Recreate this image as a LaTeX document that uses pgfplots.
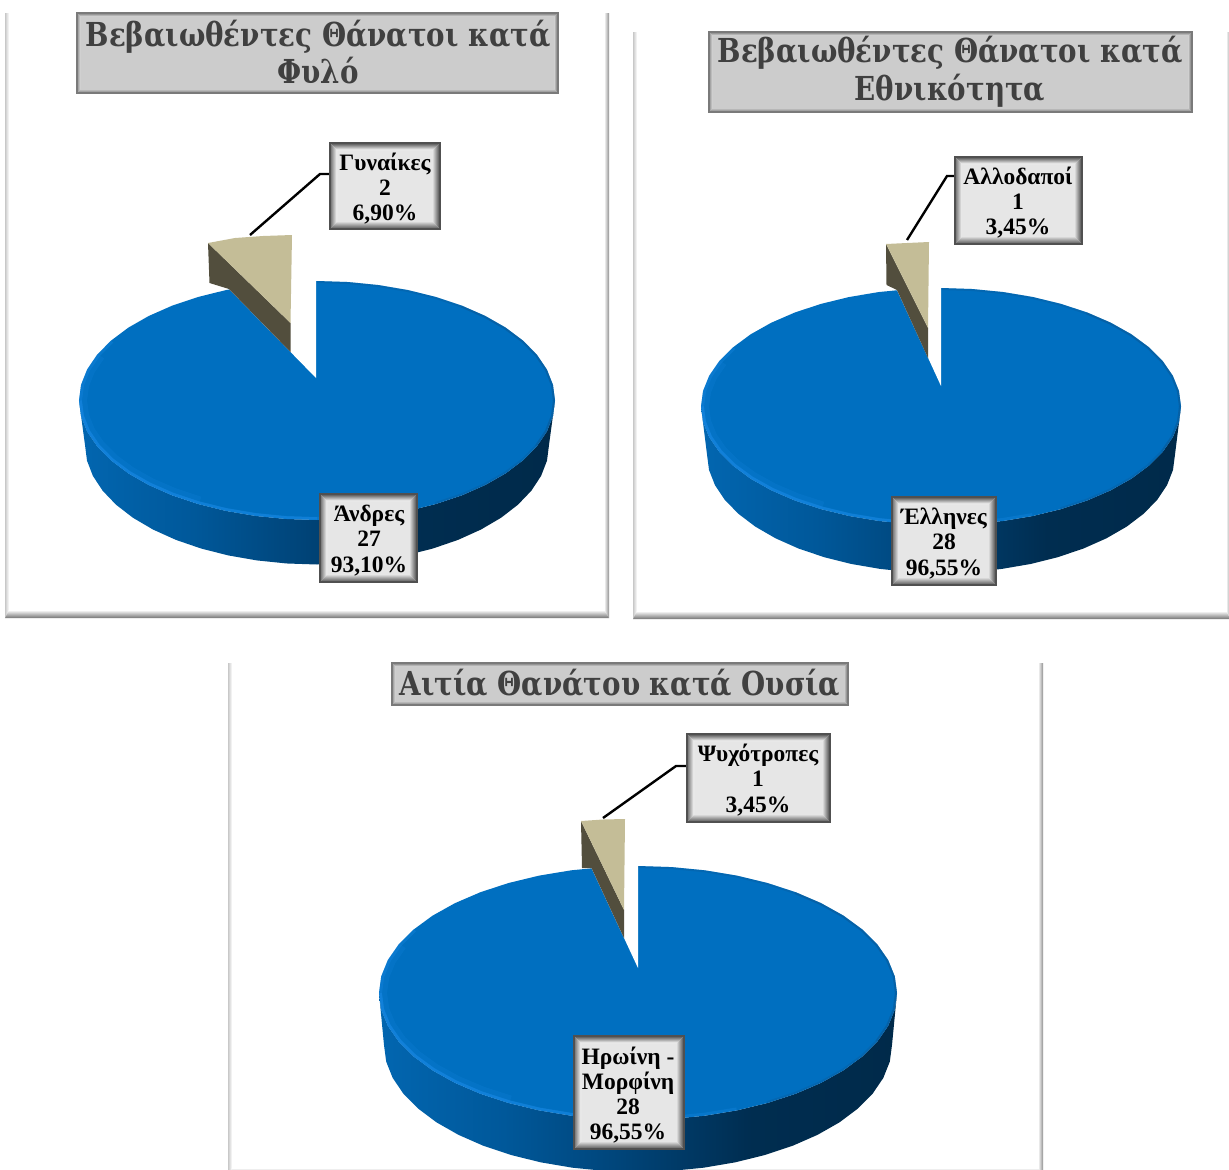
\documentclass[border=0pt]{standalone}
\usepackage{fontspec}
\setmainfont{Liberation Serif}
\newfontfamily\titlefont{DejaVu Serif}[BoldFeatures={FakeStretch=0.84}]
\usepackage{pgfplots}
\usepackage{pgfplotstable}
\pgfplotsset{compat=1.18}

\definecolor{pieblue}{HTML}{006FC0}
\definecolor{pielight}{HTML}{1A8AE6}
\definecolor{piedark}{HTML}{0A5A98}
\definecolor{slicetan}{HTML}{C4BD97}
\definecolor{slicedark}{HTML}{524E3D}
\definecolor{titletext}{HTML}{404040}
\definecolor{titleface}{HTML}{CCCCCC}
\definecolor{titleouter}{HTML}{7A7A7A}
\definecolor{titleinner}{HTML}{DEDEDE}
\definecolor{labelface}{HTML}{E6E6E6}
\definecolor{labelouter}{HTML}{505050}
\definecolor{labelinner}{HTML}{FCFCFC}
\definecolor{panelleft}{HTML}{C8C8C8}
\definecolor{panelright}{HTML}{909090}
\definecolor{panelbottom}{HTML}{737373}
\definecolor{sideA}{HTML}{0266B0}
\definecolor{sideB}{HTML}{00589A}
\definecolor{sideC}{HTML}{00457A}
\definecolor{sideD}{HTML}{002D50}
\definecolor{sideE}{HTML}{002A4A}
\pgfdeclarehorizontalshading{piesides}{100bp}{
  color(0bp)=(sideA);
  color(25bp)=(sideA);
  color(37bp)=(sideB);
  color(48bp)=(sideC);
  color(61bp)=(sideD);
  color(75bp)=(sideE);
  color(100bp)=(sideE)}

% unit ellipse, y counted downwards
\pgfplotstableread{
u v
1 0
.9914 .1305
.9659 .2588
.9239 .3827
.8660 .5
.7934 .6088
.7071 .7071
.6088 .7934
.5 .8660
.3827 .9239
.2588 .9659
.1305 .9914
0 1
-.1305 .9914
-.2588 .9659
-.3827 .9239
-.5 .8660
-.6088 .7934
-.7071 .7071
-.7934 .6088
-.8660 .5
-.9239 .3827
-.9659 .2588
-.9914 .1305
-1 0
-.9914 -.1305
-.9659 -.2588
-.9239 -.3827
-.8660 -.5
-.7934 -.6088
-.7071 -.7071
-.6088 -.7934
-.5 -.8660
-.3827 -.9239
-.2588 -.9659
-.1305 -.9914
0 -1
.1305 -.9914
.2588 -.9659
.3827 -.9239
.5 -.8660
.6088 -.7934
.7071 -.7071
.7934 -.6088
.8660 -.5
.9239 -.3827
.9659 -.2588
.9914 -.1305
1 0
}\ringtable

% side of the pie: front of top face (k=0), front of bottom face (k=1)
\pgfplotstableread{
u v k
1 0 0
.9914 .1305 0
.9659 .2588 0
.9239 .3827 0
.8660 .5 0
.7934 .6088 0
.7071 .7071 0
.6088 .7934 0
.5 .8660 0
.3827 .9239 0
.2588 .9659 0
.1305 .9914 0
0 1 0
-.1305 .9914 0
-.2588 .9659 0
-.3827 .9239 0
-.5 .8660 0
-.6088 .7934 0
-.7071 .7071 0
-.7934 .6088 0
-.8660 .5 0
-.9239 .3827 0
-.9659 .2588 0
-.9914 .1305 0
-1 0 0
-1 0 1
-.9914 .1305 1
-.9659 .2588 1
-.9239 .3827 1
-.8660 .5 1
-.7934 .6088 1
-.7071 .7071 1
-.6088 .7934 1
-.5 .8660 1
-.3827 .9239 1
-.2588 .9659 1
-.1305 .9914 1
0 1 1
.1305 .9914 1
.2588 .9659 1
.3827 .9239 1
.5 .8660 1
.6088 .7934 1
.7071 .7071 1
.7934 .6088 1
.8660 .5 1
.9239 .3827 1
.9659 .2588 1
.9914 .1305 1
1 0 1
}\sidetable

% one rim stroke on the top face: cx, a, cy, b, inset, style, first:last index
\newcommand\rim[7]{
  \addplot[#6,restrict expr to domain={\coordindex}{#7}] table[x expr={#1+(#2-#5)*\thisrow{u}},y expr={#3+(#4-#5)*\thisrow{v}}] {\ringtable};
}
% cx, a, cy, b, a of bottom face, depth
\newcommand\drawpie[6]{
  \addplot[draw=none,shade,shading=piesides] table[x expr={#1+(#2+(#5-#2)*\thisrow{k})*\thisrow{u}},y expr={#3+#6*\thisrow{k}+#4*\thisrow{v}}] {\sidetable} --cycle;
  \addplot[draw=none,fill=pieblue] table[x expr={#1+#2*\thisrow{u}},y expr={#3+#4*\thisrow{v}}] {\ringtable} --cycle;
  \rim{#1}{#2}{#3}{#4}{4}{pielight,opacity=.18,line width=8pt}{16:27}
  \rim{#1}{#2}{#3}{#4}{1.5}{pielight,opacity=.3,line width=3pt}{9:28}
  \rim{#1}{#2}{#3}{#4}{1.5}{pielight,opacity=.45,line width=2.5pt}{12:24}
  \rim{#1}{#2}{#3}{#4}{1}{piedark,opacity=.35,line width=2pt}{36:48}
  \rim{#1}{#2}{#3}{#4}{1}{piedark,opacity=.35,line width=2pt}{0:8}
  \rim{#1}{#2}{#3}{#4}{1}{piedark,opacity=.4,line width=2pt}{41:48}
  \rim{#1}{#2}{#3}{#4}{1}{piedark,opacity=.4,line width=2pt}{0:3}
}

% x0, y0, x1, y1, bevel, face, outer dark, inner light
\newcommand\bevelbox[8]{
  \pgfmathsetmacro\xa{#1+#5}\pgfmathsetmacro\xb{#3-#5}
  \pgfmathsetmacro\ya{#2+#5}\pgfmathsetmacro\yb{#4-#5}
  \addplot[draw=none,fill=#6] coordinates {(#1,#2)(#3,#2)(#3,#4)(#1,#4)} --cycle;
  \addplot[draw=none,top color=#7,bottom color=#8] coordinates {(#1,#2)(#3,#2)(\xb,\ya)(\xa,\ya)} --cycle;
  \addplot[draw=none,left color=#7!85!white,right color=#8] coordinates {(#1,#2)(\xa,\ya)(\xa,\yb)(#1,#4)} --cycle;
  \addplot[draw=none,left color=#8!70!gray,right color=#7!80!black] coordinates {(\xb,\ya)(#3,#2)(#3,#4)(\xb,\yb)} --cycle;
  \addplot[draw=none,top color=#8!70!gray,bottom color=#7] coordinates {(\xa,\yb)(\xb,\yb)(#3,#4)(#1,#4)} --cycle;
  \addplot[#7,line width=1.2pt] coordinates {(#1,#2)(#3,#2)(#3,#4)(#1,#4)} --cycle;
}

% x0, y0, x1, y1: white frame with soft edges
\newcommand\panel[4]{
  \pgfmathsetmacro\xa{#1+4}\pgfmathsetmacro\xb{#3-5}
  \pgfmathsetmacro\yb{#4-8}
  \addplot[draw=none,left color=panelleft,right color=white] coordinates {(#1,#2)(\xa,#2)(\xa,\yb)(#1,#4)} --cycle;
  \addplot[draw=none,left color=white,right color=panelright] coordinates {(\xb,#2)(#3,#2)(#3,#4)(\xb,\yb)} --cycle;
  \addplot[draw=none,top color=white,bottom color=panelbottom] coordinates {(\xa,\yb)(\xb,\yb)(#3,#4)(#1,#4)} --cycle;
}

\newcommand\chartlabel[3]{
  \node[align=center,inner sep=0pt,text=black,font=\fontsize{23.5}{25.2}\selectfont\bfseries] at (axis cs:#1,#2) {#3};
}
\newcommand\charttitle[3]{
  \node[align=center,inner sep=0pt,text=titletext,font=\titlefont\fontsize{33}{37.5}\selectfont\bfseries] at (axis cs:#1,#2) {#3};
}
\newcommand\titlebox[4]{\bevelbox{#1}{#2}{#3}{#4}{3.5}{titleface}{titleouter}{titleinner}}
\newcommand\labelbox[4]{\bevelbox{#1}{#2}{#3}{#4}{7}{labelface}{labelouter}{labelinner}}

\begin{document}
\begin{tikzpicture}
\useasboundingbox (0,0) rectangle (1229pt,1170pt);
\begin{axis}[
    at={(0,0)},
    anchor=south west,
    width=1229pt,
    height=1170pt,
    scale only axis,
    xmin=0, xmax=1229,
    ymin=0, ymax=1170,
    y dir=reverse,
    hide axis
]
\panel{5}{13}{609}{618}
\panel{633}{32}{1231}{619}
\panel{228}{663}{1043}{1176}

% Gender
\drawpie{317}{238}{400.5}{119.5}{232}{44.5}
\addplot[draw=none,fill=white] coordinates {(316,378)(229,289)(229,270)(316,270)} --cycle;
\addplot[draw=none,fill=slicedark] coordinates {(208,243)(290.5,323)(290.5,352)(229,289)(209.5,283)} --cycle;
\addplot[draw=none,fill=slicetan] coordinates {(208,243)(235,238)(263,236)(292,235)(290.5,323)} --cycle;
\addplot[black,line width=2.4pt] coordinates {(250,235)(320,174)(330,174)};
\titlebox{77}{13}{558}{93}
\charttitle{318}{52}{Βεβαιωθέντες Θάνατοι κατά\\Φυλό}
\labelbox{330}{143}{440}{229}
\chartlabel{385}{188.5}{Γυναίκες\\2\\6,90\%}
\labelbox{320}{494}{417}{582}
\chartlabel{369}{540.5}{Άνδρες\\27\\93,10\%}

% Nationality
\drawpie{941}{240}{406.5}{118.5}{234}{48}
\addplot[draw=none,fill=white] coordinates {(941,386)(897,290)(897,275)(941,275)} --cycle;
\addplot[draw=none,fill=slicedark] coordinates {(886,244)(928,328)(928,358)(897,290)(886.5,285)} --cycle;
\addplot[draw=none,fill=slicetan] coordinates {(886,244)(907,243)(929,242)(928,328)} --cycle;
\addplot[black,line width=2.4pt] coordinates {(907,240)(947,176)(955,176)};
\titlebox{709}{32}{1192}{112}
\charttitle{950}{71.5}{Βεβαιωθέντες Θάνατοι κατά\\Εθνικότητα}
\labelbox{955}{157}{1082}{244}
\chartlabel{1018}{202.5}{Αλλοδαποί\\1\\3,45\%}
\labelbox{892}{497}{996}{585}
\chartlabel{944}{543.5}{Έλληνες\\28\\96,55\%}

% Substance
\drawpie{638}{259}{993}{127}{254}{52}
\addplot[draw=none,fill=white] coordinates {(638,968)(591.5,868)(591.5,850)(638,850)} --cycle;
\addplot[draw=none,fill=slicedark] coordinates {(581,821)(624,910)(624,938)(591.5,868)(582,868)} --cycle;
\addplot[draw=none,fill=slicetan] coordinates {(581,821)(603,819.5)(625,819)(624,910)} --cycle;
\addplot[black,line width=2.4pt] coordinates {(603,818)(676,766)(687,766)};
\titlebox{392}{663}{848}{705}
\charttitle{620}{683}{Αιτία Θανάτου κατά Ουσία}
\labelbox{687}{734}{830}{822}
\chartlabel{758}{780}{Ψυχότροπες\\1\\3,45\%}
\labelbox{574}{1036}{684}{1149}
\chartlabel{628}{1095}{Ηρωίνη -\\Μορφίνη\\28\\96,55\%}
\end{axis}
\end{tikzpicture}
\end{document}
